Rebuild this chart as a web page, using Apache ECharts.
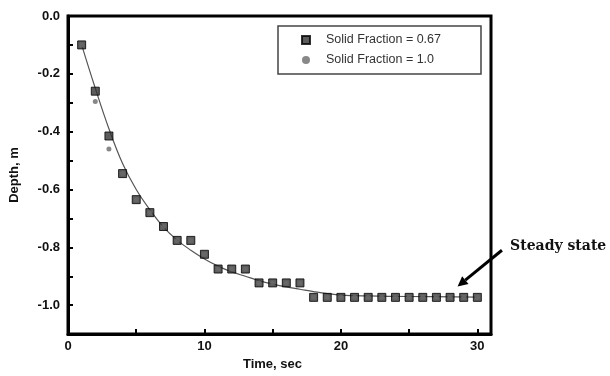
<!DOCTYPE html>
<html>
<head>
<meta charset="utf-8">
<script src="https://cdn.jsdelivr.net/npm/echarts@6/dist/echarts.min.js"></script>
<style>html,body{margin:0;padding:0;background:#fff;}#c{width:610px;height:376px;}</style>
</head>
<body>
<div id="c"></div>
<script>
const timeSquares = [1,2,3,4,5,6,7,8,9,10,11,12,13,14,15,16,17,18,19,20,21,22,23,24,25,26,27,28,29,30];
const depthSquares = [-0.10,-0.26,-0.415,-0.545,-0.635,-0.68,-0.728,-0.776,-0.776,-0.824,-0.875,-0.875,-0.875,-0.923,-0.923,-0.923,-0.923,-0.973,-0.973,-0.973,-0.973,-0.973,-0.973,-0.973,-0.973,-0.973,-0.973,-0.973,-0.973,-0.973];
const depthCircles = [-0.10,-0.296,-0.46,-0.545,-0.635,-0.68,-0.728,-0.776,-0.776,-0.824,-0.875,-0.875,-0.875,-0.923,-0.923,-0.923,-0.923,-0.973,-0.973,-0.973,-0.973,-0.973,-0.973,-0.973,-0.973,-0.973,-0.973,-0.973,-0.973,-0.973];
const fitTime = [1,2,3,4,5,6,7,8,9,10,11,12,13,14,15,16,17,18,19,20,22,25,30];
const fitDepth = [-0.10,-0.25,-0.39,-0.51,-0.60,-0.67,-0.73,-0.775,-0.81,-0.84,-0.865,-0.885,-0.90,-0.915,-0.927,-0.937,-0.945,-0.953,-0.96,-0.965,-0.968,-0.97,-0.972];
const xTicks = [0,5,10,15,20,25,30];
const xLabels = [0,10,20,30];
const yTicks = [0,-0.1,-0.2,-0.3,-0.4,-0.5,-0.6,-0.7,-0.8,-0.9,-1.0];
const yLabels = [0,-0.2,-0.4,-0.6,-0.8,-1.0];
const seriesNames = ['Solid Fraction = 0.67','Solid Fraction = 1.0'];
const annotation = 'Steady state';

const zip = (a,b) => a.map((v,i) => [v, b[i]]);
const chart = echarts.init(document.getElementById('c'), null, {renderer:'canvas'});
const labelFont = {fontFamily:'Liberation Sans, Arial, sans-serif', fontWeight:'bold', fontSize:13, color:'#111'};
chart.setOption({
  animation:false,
  grid:{left:64, right:119, top:16, bottom:38, show:true, borderColor:'#000', borderWidth:3, backgroundColor:'transparent'},
  legend:{
    orient:'vertical', left:278, top:26, width:199,
    padding:[7,40,7,23], itemGap:6, itemWidth:8, itemHeight:8,
    borderColor:'#444', borderWidth:1.5, borderRadius:0,
    textStyle:{fontFamily:'Liberation Sans, Arial, sans-serif', fontSize:12.5, color:'#333', lineHeight:14, padding:[0,0,0,11]},
    data:[{name:seriesNames[0], icon:'rect'},{name:seriesNames[1], icon:'circle'}]
  },
  xAxis:{
    type:'value', min:0, max:31,
    name:'Time, sec', nameLocation:'middle', nameGap:22,
    nameTextStyle:Object.assign({}, labelFont, {fontSize:13, padding:[0,14,0,0]}),
    axisLine:{onZero:false, lineStyle:{color:'#000', width:3}},
    axisTick:{inside:true, length:5, lineStyle:{color:'#000', width:2}, customValues:xTicks},
    axisLabel:Object.assign({}, labelFont, {margin:6, customValues:xLabels}),
    splitLine:{show:false}
  },
  yAxis:{
    type:'value', min:-1.1, max:0,
    name:'Depth, m', nameLocation:'middle', nameGap:47,
    nameTextStyle:Object.assign({}, labelFont, {fontSize:13}),
    axisLine:{onZero:false, lineStyle:{color:'#000', width:3}},
    axisTick:{inside:true, length:5, lineStyle:{color:'#000', width:2}, customValues:yTicks},
    axisLabel:Object.assign({}, labelFont, {margin:8, customValues:yLabels, formatter:v => v.toFixed(1)}),
    splitLine:{show:false}
  },
  series:[
    {name:'fit', type:'line', data:zip(fitTime, fitDepth), smooth:0.4, showSymbol:false, symbol:'none',
     lineStyle:{color:'#555', width:1.2}, z:1, silent:true},
    {name:seriesNames[0], type:'scatter', data:zip(timeSquares, depthSquares), symbol:'rect', symbolSize:8,
     itemStyle:{color:'#333', borderColor:'#000', borderWidth:1}, z:2},
    {name:seriesNames[1], type:'scatter', data:zip(timeSquares, depthCircles), symbol:'circle', symbolSize:5,
     itemStyle:{color:'#6a6a6a'}, z:3}
  ]
});

const start = chart.convertToPixel({gridIndex:0}, [31.8, -0.81]);
const end = chart.convertToPixel({gridIndex:0}, [28.55, -0.935]);
const ang = Math.atan2(end[1]-start[1], end[0]-start[0]);
const ah = 10, aw = 5;
const bx = end[0] - ah*Math.cos(ang), by = end[1] - ah*Math.sin(ang);
const txtPos = chart.convertToPixel({gridIndex:0}, [32.4, -0.795]);
chart.setOption({
  graphic:[
    {type:'line', shape:{x1:start[0], y1:start[1], x2:bx, y2:by}, style:{stroke:'#000', lineWidth:3}, z:10},
    {type:'polygon', shape:{points:[[end[0],end[1]],[bx - aw*Math.sin(ang), by + aw*Math.cos(ang)],[bx + aw*Math.sin(ang), by - aw*Math.cos(ang)]]}, style:{fill:'#000'}, z:10},
    {type:'text', x:txtPos[0], y:txtPos[1], style:{text:annotation, font:'bold 14px "DejaVu Serif", "Liberation Serif", serif', fill:'#111', textVerticalAlign:'middle'}, z:10}
  ]
});
</script>
</body>
</html>
